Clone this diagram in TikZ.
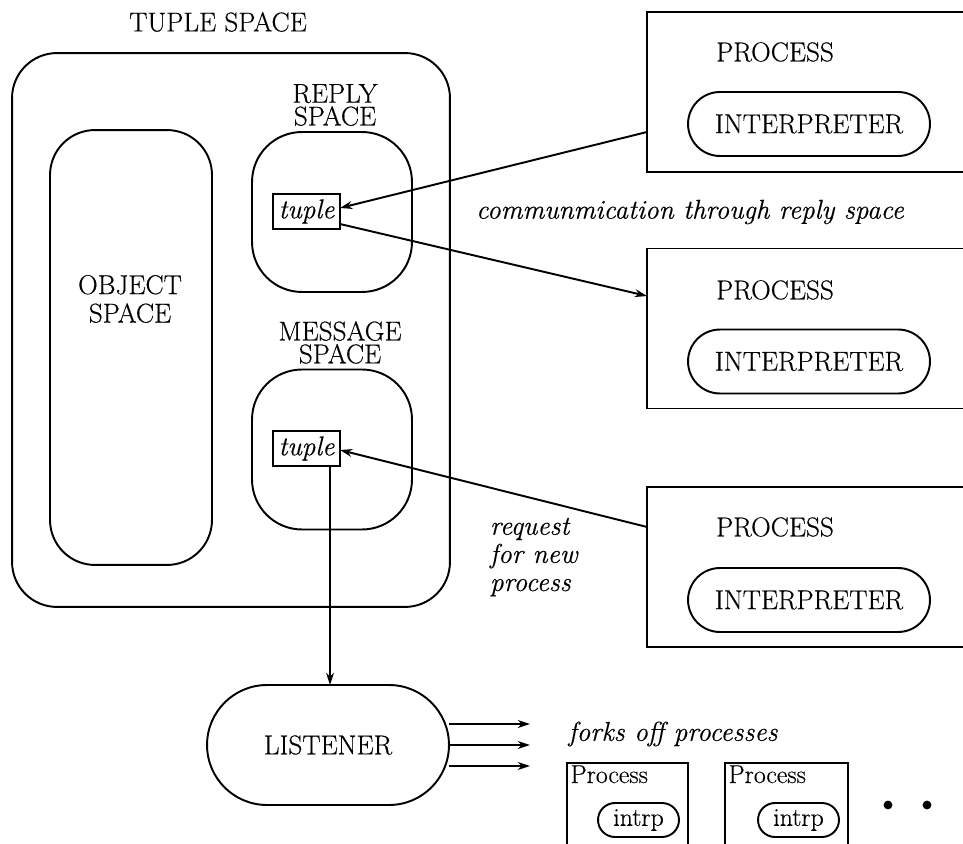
\documentclass[tikz,border=0pt]{standalone}
\usepackage{fontspec}
\setmainfont{Latin Modern Roman}[FakeBold=0.4]
\usetikzlibrary{arrows.meta}
\newcommand\myfs{\fontsize{15.5}{18.5}\selectfont}
\newcommand\mysmallfs{\fontsize{14.7}{17.5}\selectfont}
\begin{document}
\begin{tikzpicture}[x=0.02cm,y=-0.02cm, line width=1.1pt,
  every node/.style={font=\myfs, inner sep=0pt, outer sep=0pt},
  arr/.style={-{Stealth[length=7pt,width=4.5pt]}},
  bigspace/.style={draw, rounded corners=0.9cm},
  subspace/.style={draw, rounded corners=1cm, minimum width=3.2cm, minimum height=3.2cm},
  tightlbl/.style={align=center, font=\fontsize{15.5}{13}\selectfont},
  tup/.style={draw, minimum width=1.34cm, minimum height=0.7cm, font=\myfs\itshape},
  procbox/.style={minimum width=6.32cm, minimum height=3.2cm},
  interp/.style={draw, rounded corners=0.64cm, minimum width=4.84cm, minimum height=1.28cm},
  smallproc/.style={minimum height=1.62cm},
  intrp/.style={draw, rounded corners=0.34cm, minimum width=1.62cm, minimum height=0.68cm, font=\mysmallfs},
  emph/.style={font=\fontsize{15.5}{16}\selectfont\itshape},
  dot/.style={fill, circle, minimum size=5pt}
]
\useasboundingbox (0,0) rectangle (963,844);

% tuple space
\node (tslabel) at (218,22) {TUPLE SPACE};
\node[bigspace, minimum width=8.76cm, minimum height=11.08cm] (ts) at (231,330) {};
\node[bigspace, minimum width=3.24cm, minimum height=8.7cm] (os) at (131,347.5) {};
\node[align=center, font=\fontsize{15.5}{16.2}\selectfont] (oslabel) at (130,299) {OBJECT\\SPACE};

\node[tightlbl] (rslabel) at (335,105) {REPLY\\SPACE};
\node[subspace] (rs) at (332,212) {};
\node[tup] (rt) at (306.5,211.5) {tuple};

\node[tightlbl] (mslabel) at (340,342.5) {MESSAGE\\SPACE};
\node[subspace] (ms) at (332,449.5) {};
\node[tup] (mt) at (306.5,448.5) {tuple};

% processes on the right
\node[procbox] (p1) at (805,92) {};
\draw (p1.north east) -- (p1.north west) -- (p1.south west) -- (p1.south east);
\node (p1l) at (775,52) {PROCESS};
\node[interp] (p1i) at (809,124) {INTERPRETER};

\node[procbox] (p2) at (805,328.5) {};
\draw (p2.north east) -- (p2.north west) -- (p2.south west) -- (p2.south east);
\node (p2l) at (775,290) {PROCESS};
\node[interp] (p2i) at (809,361.5) {INTERPRETER};

\node[procbox] (p3) at (805,567) {};
\draw (p3.north east) -- (p3.north west) -- (p3.south west) -- (p3.south east);
\node (p3l) at (775,527) {PROCESS};
\node[interp] (p3i) at (809,600) {INTERPRETER};

% communication arrows
\draw[arr] ([yshift=-0.8cm]p1.west) -- ([yshift=0.07cm]rt.east);
\draw[arr] ([yshift=-0.25cm]rt.east) -- ([yshift=0.65cm]p2.west);
\node[emph] (comm) at (690,212) {communmication through reply space};
\draw[arr] ([yshift=0.8cm]p3.west) -- ([yshift=-0.03cm]mt.east);
\node[emph, align=left, anchor=west] (req) at (490,557) {request\\for new\\process};

% listener
\node[draw, rounded corners=1.2cm, minimum width=4.84cm, minimum height=2.4cm] (lis) at (328,745) {LISTENER};
\draw[arr] ([xshift=0.47cm]mt.south) -- ([xshift=0.47cm]mt.south |- lis.north);
\coordinate (fk) at (530,745);
\draw[arr] ([yshift=0.42cm]lis.east) -- ([yshift=0.42cm]fk);
\draw[arr] (lis.east) -- (fk);
\draw[arr] ([yshift=-0.42cm]lis.east) -- ([yshift=-0.42cm]fk);
\node[emph] (forks) at (673,734) {forks off processes};

% forked processes
\node[smallproc, minimum width=2.42cm] (sp1) at (627.5,803.5) {};
\draw (sp1.south west) -- (sp1.north west) -- (sp1.north east) -- (sp1.south east);
\node[anchor=base west, font=\mysmallfs] (sp1l) at ([xshift=0.07cm,yshift=-0.4cm]sp1.north west) {Process};
\node[intrp] (sp1i) at (638.5,820) {intrp};

\node[smallproc, minimum width=2.46cm] (sp2) at (786.5,803.5) {};
\draw (sp2.south west) -- (sp2.north west) -- (sp2.north east) -- (sp2.south east);
\node[anchor=base west, font=\mysmallfs] (sp2l) at ([xshift=0.07cm,yshift=-0.4cm]sp2.north west) {Process};
\node[intrp] (sp2i) at (798.5,820) {intrp};

\node[dot] (d1) at (888,805) {};
\node[dot] (d2) at (927,805) {};
\end{tikzpicture}
\end{document}
